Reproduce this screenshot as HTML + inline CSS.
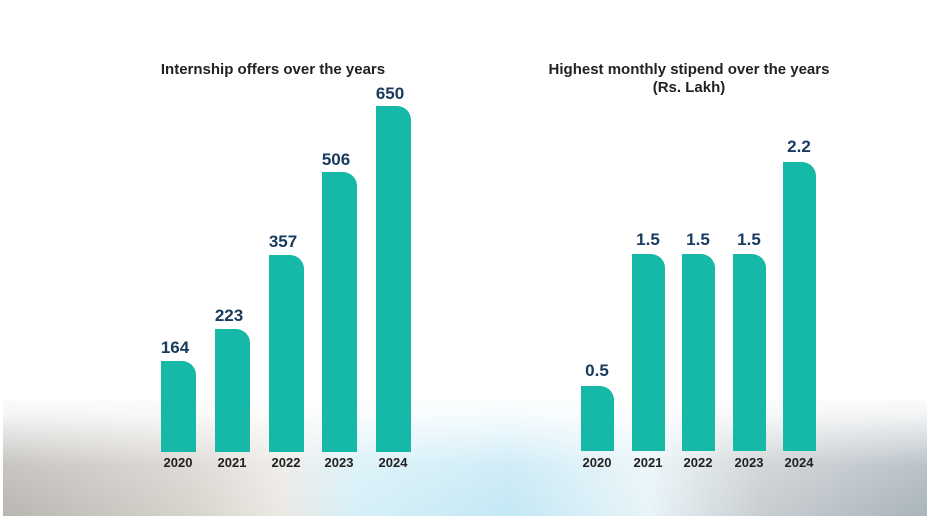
<!DOCTYPE html>
<html><head><style>
body{margin:0;width:927px;height:516px;overflow:hidden;background:#fff;position:relative;font-family:"Liberation Sans",sans-serif}
.bg{position:absolute;left:3px;top:400px;width:924px;height:116px;
background:linear-gradient(90deg,#b9b6b2 0%,#d6d2cc 20%,#ece9e4 30%,#d6f0f8 38%,#c4e8f5 55%,#e8f4f8 70%,#c9cdd0 82%,#a9b4bc 100%);}
.fade{position:absolute;left:0;top:390px;width:927px;height:126px;background:linear-gradient(180deg,#fff 0%,rgba(255,255,255,.85) 20%,rgba(255,255,255,.2) 60%,rgba(255,255,255,0) 100%)}
.bar{position:absolute;background:#16b9a8;border-top-right-radius:14px}
.v{position:absolute;font-weight:bold;color:#173a5e;font-size:17px;text-align:center;width:60px}
.y{position:absolute;font-weight:bold;color:#222;font-size:13px;text-align:center;width:50px;top:455px}
.t{position:absolute;font-weight:bold;color:#222;font-size:15px;text-align:center}
</style></head><body>
<div class="bg"></div><div class="fade"></div>
<div class="t" style="left:123px;top:61px;width:300px">Internship offers over the years</div>
<div class="t" style="left:519px;top:61px;width:340px;line-height:18px">Highest monthly stipend over the years<br>(Rs. Lakh)</div>

<div class="bar" style="left:161px;top:361px;width:35px;height:91px"></div>
<div class="bar" style="left:215px;top:329px;width:35px;height:123px"></div>
<div class="bar" style="left:269px;top:255px;width:35px;height:197px"></div>
<div class="bar" style="left:322px;top:172px;width:35px;height:280px"></div>
<div class="bar" style="left:376px;top:106px;width:35px;height:346px"></div>
<div class="v" style="left:145px;top:338px">164</div>
<div class="v" style="left:199px;top:306px">223</div>
<div class="v" style="left:253px;top:232px">357</div>
<div class="v" style="left:306px;top:150px">506</div>
<div class="v" style="left:360px;top:84px">650</div>
<div class="y" style="left:153px">2020</div>
<div class="y" style="left:207px">2021</div>
<div class="y" style="left:261px">2022</div>
<div class="y" style="left:314px">2023</div>
<div class="y" style="left:368px">2024</div>

<div class="bar" style="left:581px;top:386px;width:33px;height:65px"></div>
<div class="bar" style="left:632px;top:254px;width:33px;height:197px"></div>
<div class="bar" style="left:682px;top:254px;width:33px;height:197px"></div>
<div class="bar" style="left:733px;top:254px;width:33px;height:197px"></div>
<div class="bar" style="left:783px;top:162px;width:33px;height:289px"></div>
<div class="v" style="left:567px;top:361px">0.5</div>
<div class="v" style="left:618px;top:230px">1.5</div>
<div class="v" style="left:668px;top:230px">1.5</div>
<div class="v" style="left:719px;top:230px">1.5</div>
<div class="v" style="left:769px;top:137px">2.2</div>
<div class="y" style="left:572px">2020</div>
<div class="y" style="left:623px">2021</div>
<div class="y" style="left:673px">2022</div>
<div class="y" style="left:724px">2023</div>
<div class="y" style="left:774px">2024</div>
</body></html>
